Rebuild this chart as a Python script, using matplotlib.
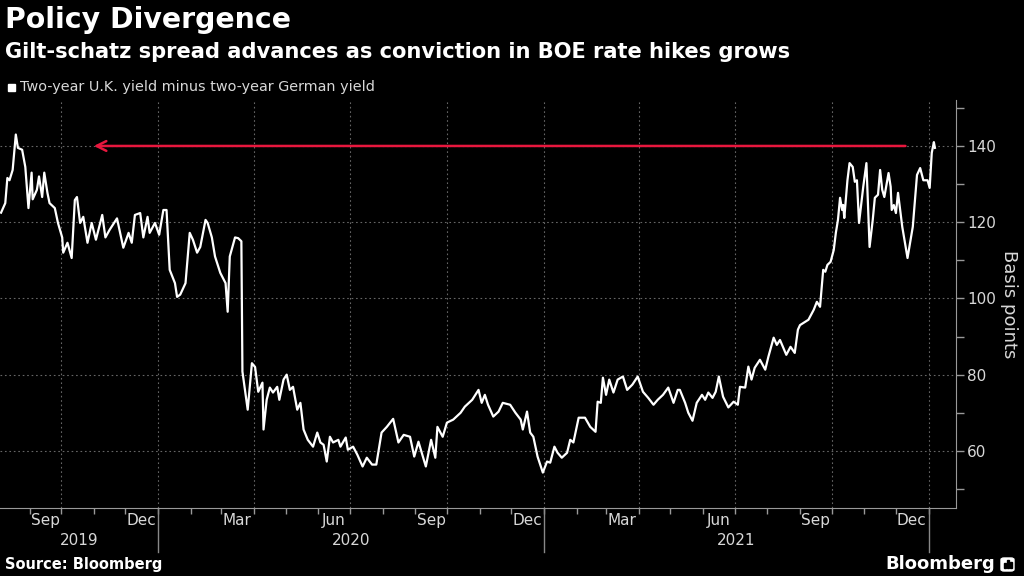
import matplotlib
matplotlib.use("Agg")
import matplotlib.pyplot as plt
import matplotlib.dates as mdates
from matplotlib.patches import FancyBboxPatch, Rectangle
import pandas as pd

# Two-year U.K. yield minus two-year German yield, basis points
dates = [
    "2019-08-05", "2019-08-09", "2019-08-11", "2019-08-13", "2019-08-16", "2019-08-19", "2019-08-21",
    "2019-08-25", "2019-08-28", "2019-08-31", "2019-09-03", "2019-09-04", "2019-09-08", "2019-09-10",
    "2019-09-13", "2019-09-15", "2019-09-18", "2019-09-20", "2019-09-25", "2019-09-28", "2019-10-02",
    "2019-10-03", "2019-10-07", "2019-10-11", "2019-10-14", "2019-10-16", "2019-10-19", "2019-10-22",
    "2019-10-26", "2019-10-30", "2019-11-03", "2019-11-09", "2019-11-12", "2019-11-16", "2019-11-23",
    "2019-11-29", "2019-12-04", "2019-12-07", "2019-12-10", "2019-12-15", "2019-12-18", "2019-12-22",
    "2019-12-24", "2019-12-29", "2020-01-02", "2020-01-06", "2020-01-09", "2020-01-12", "2020-01-17",
    "2020-01-19", "2020-01-22", "2020-01-27", "2020-01-31", "2020-02-03", "2020-02-07", "2020-02-10",
    "2020-02-15", "2020-02-17", "2020-02-21", "2020-02-24", "2020-02-29", "2020-03-05", "2020-03-07",
    "2020-03-09", "2020-03-14", "2020-03-17", "2020-03-20", "2020-03-21", "2020-03-26", "2020-03-30",
    "2020-04-02", "2020-04-05", "2020-04-09", "2020-04-10", "2020-04-13", "2020-04-16", "2020-04-19",
    "2020-04-23", "2020-04-25", "2020-04-29", "2020-05-02", "2020-05-05", "2020-05-08", "2020-05-12",
    "2020-05-15", "2020-05-18", "2020-05-22", "2020-05-27", "2020-05-31", "2020-06-03", "2020-06-06",
    "2020-06-09", "2020-06-12", "2020-06-15", "2020-06-20", "2020-06-22", "2020-06-27", "2020-06-29",
    "2020-07-04", "2020-07-08", "2020-07-13", "2020-07-17", "2020-07-22", "2020-07-26", "2020-07-31",
    "2020-08-05", "2020-08-11", "2020-08-16", "2020-08-21", "2020-08-27", "2020-08-31", "2020-09-04",
    "2020-09-09", "2020-09-11", "2020-09-16", "2020-09-20", "2020-09-22", "2020-09-27", "2020-10-01",
    "2020-10-07", "2020-10-14", "2020-10-18", "2020-10-25", "2020-10-31", "2020-11-03", "2020-11-06",
    "2020-11-09", "2020-11-14", "2020-11-19", "2020-11-23", "2020-11-30", "2020-12-05", "2020-12-10",
    "2020-12-12", "2020-12-16", "2020-12-19", "2020-12-22", "2020-12-26", "2020-12-31", "2021-01-04",
    "2021-01-07", "2021-01-11", "2021-01-14", "2021-01-18", "2021-01-23", "2021-01-26", "2021-01-29",
    "2021-02-03", "2021-02-09", "2021-02-14", "2021-02-19", "2021-02-21", "2021-02-24", "2021-02-26",
    "2021-03-01", "2021-03-04", "2021-03-08", "2021-03-12", "2021-03-17", "2021-03-21", "2021-03-26",
    "2021-03-31", "2021-04-05", "2021-04-10", "2021-04-15", "2021-04-19", "2021-04-24", "2021-04-29",
    "2021-05-04", "2021-05-08", "2021-05-10", "2021-05-15", "2021-05-18", "2021-05-22", "2021-05-26",
    "2021-05-31", "2021-06-03", "2021-06-06", "2021-06-10", "2021-06-13", "2021-06-16", "2021-06-20",
    "2021-06-25", "2021-06-30", "2021-07-04", "2021-07-06", "2021-07-11", "2021-07-14", "2021-07-17",
    "2021-07-20", "2021-07-25", "2021-07-30", "2021-08-02", "2021-08-07", "2021-08-10", "2021-08-13",
    "2021-08-19", "2021-08-23", "2021-08-27", "2021-08-30", "2021-09-01", "2021-09-09", "2021-09-14",
    "2021-09-17", "2021-09-20", "2021-09-23", "2021-09-25", "2021-09-27", "2021-09-30", "2021-10-03",
    "2021-10-05", "2021-10-07", "2021-10-09", "2021-10-11", "2021-10-12", "2021-10-13", "2021-10-16",
    "2021-10-18", "2021-10-21", "2021-10-23", "2021-10-25", "2021-10-27", "2021-10-31", "2021-11-03",
    "2021-11-06", "2021-11-09", "2021-11-11", "2021-11-14", "2021-11-16", "2021-11-18", "2021-11-20",
    "2021-11-24", "2021-11-26", "2021-11-27", "2021-11-29", "2021-12-01", "2021-12-03", "2021-12-07",
    "2021-12-12", "2021-12-17", "2021-12-21", "2021-12-24", "2021-12-27", "2021-12-31", "2022-01-02",
    "2022-01-04", "2022-01-06", "2022-01-07",
]
spread = [
    122.5, 125.0, 131.6, 131.0, 133.7, 143.0, 139.5,
    139.0, 134.5, 123.7, 133.0, 126.0, 128.5, 132.0,
    126.6, 133.0, 127.7, 125.0, 123.7, 119.8, 116.0,
    112.0, 114.6, 110.6, 125.8, 126.6, 119.8, 121.4,
    114.6, 119.8, 115.4, 121.9, 116.0, 118.0, 121.0,
    113.3, 117.2, 114.6, 121.9, 122.4, 116.0, 121.4,
    117.2, 119.8, 116.7, 123.2, 123.2, 107.5, 104.0,
    100.4, 101.0, 104.0, 117.2, 115.4, 112.0, 113.5,
    120.6, 119.8, 116.0, 111.0, 106.7, 104.0, 96.5,
    111.0, 116.0, 115.8, 115.0, 80.8, 70.8, 83.0,
    82.0, 75.5, 77.9, 65.6, 73.4, 76.6, 75.3,
    76.8, 73.4, 78.7, 80.0, 76.0, 76.8, 70.8,
    72.6, 65.6, 62.9, 61.1, 64.8, 62.2, 61.6,
    57.2, 63.7, 62.2, 62.9, 61.1, 63.5, 60.3,
    61.1, 59.0, 55.9, 58.2, 56.4, 56.4, 64.8,
    66.3, 68.4, 62.2, 64.2, 63.7, 58.5, 62.4,
    57.7, 55.9, 62.9, 58.2, 66.3, 63.7, 67.4,
    68.2, 70.0, 71.6, 73.4, 76.0, 72.6, 74.7,
    72.1, 69.0, 70.3, 72.6, 72.1, 70.0, 68.2,
    65.6, 70.3, 64.8, 63.7, 58.5, 54.3, 57.2,
    56.9, 61.1, 59.5, 58.2, 59.5, 62.9, 62.2,
    68.7, 68.7, 66.3, 65.0, 72.9, 72.6, 79.2,
    74.7, 78.7, 75.3, 78.7, 79.5, 76.0, 77.4,
    79.5, 75.5, 73.9, 72.1, 73.4, 74.7, 76.6,
    72.6, 76.0, 76.0, 72.6, 70.0, 67.9, 72.6,
    74.7, 73.4, 75.3, 73.9, 75.5, 79.5, 74.2,
    71.4, 72.9, 72.1, 76.8, 76.6, 82.1, 78.7,
    81.8, 83.9, 81.3, 84.7, 89.7, 87.8, 89.1,
    85.2, 87.3, 85.7, 91.8, 93.0, 94.4, 97.0,
    99.1, 97.8, 107.5, 107.0, 108.8, 109.6, 112.7,
    117.2, 120.6, 126.4, 123.2, 124.5, 121.1, 131.0,
    135.5, 134.5, 130.6, 131.0, 119.8, 129.3, 135.5,
    113.5, 120.6, 126.4, 127.2, 133.7, 128.5, 126.6,
    132.9, 129.3, 123.2, 124.5, 122.4, 127.7, 118.8,
    110.6, 118.8, 132.4, 134.2, 131.0, 131.0, 129.0,
    138.2, 141.0, 139.5,
]

arrow_level = 140
arrow_from = "2021-12-10"
arrow_to = "2019-11-01"

month_labels = ["Sep", "Dec", "Mar", "Jun", "Sep", "Dec", "Mar", "Jun", "Sep", "Dec"]
month_label_dates = ["2019-09-16", "2019-12-16", "2020-03-16", "2020-06-16", "2020-09-16",
                     "2020-12-16", "2021-03-16", "2021-06-16", "2021-09-16", "2021-12-16"]
year_labels = ["2019", "2020", "2021"]
year_starts = ["2020-01-01", "2021-01-01", "2022-01-01"]

x_start = pd.Timestamp("2019-08-04")
x_end = pd.Timestamp("2022-01-27")

dt = pd.to_datetime(dates)

fig = plt.figure(figsize=(10.24, 5.76), dpi=100, facecolor="black")
ax = fig.add_axes([0.0, 0.118, 0.9336, 0.708], facecolor="black")

ax.plot(dt, spread, color="white", lw=1.6, zorder=3)

ax.set_xlim(x_start, x_end)
ax.set_ylim(45, 152)

# right y axis
ax.yaxis.tick_right()
ax.set_yticks([60, 80, 100, 120, 140])
ax.set_yticks([50, 70, 90, 110, 130, 150], minor=True)
ax.tick_params(axis="y", which="both", colors="#999999", labelcolor="#d8d8d8",
               labelsize=11, length=6, width=1, pad=2)
ax.yaxis.grid(True, which="major", color="#666666", ls=(0, (1.5, 2.5)), lw=0.8)

# x axis: monthly ticks, labels mid month
ax.xaxis.set_major_locator(mdates.MonthLocator())
ax.xaxis.set_major_formatter(plt.NullFormatter())
ax.tick_params(axis="x", which="both", colors="#999999", length=4, width=1)
for q in pd.date_range("2019-10-01", "2022-01-01", freq="QS-JAN"):
    ax.axvline(q, color="#666666", ls=(0, (1.5, 2.5)), lw=0.8, zorder=1)

tr = ax.get_xaxis_transform()
for lab, d in zip(month_labels, month_label_dates):
    ax.text(pd.Timestamp(d), -0.03, lab, transform=tr, ha="center", va="center",
            color="#d8d8d8", fontsize=11, clip_on=False)

edges = [x_start] + [pd.Timestamp(s) for s in year_starts]
for i, lab in enumerate(year_labels):
    mid = edges[i] + (edges[i + 1] - edges[i]) / 2
    ax.text(mid, -0.079, lab, transform=tr, ha="center", va="center",
            color="#d8d8d8", fontsize=11, clip_on=False)
for s in year_starts:
    ax.plot([pd.Timestamp(s)] * 2, [0, -0.108], transform=tr, color="#888888",
            lw=1, clip_on=False)

for side in ["top", "left"]:
    ax.spines[side].set_visible(False)
for side in ["right", "bottom"]:
    ax.spines[side].set_color("#999999")

ax.yaxis.set_label_position("right")
ax.set_ylabel("Basis points", color="#d8d8d8", fontsize=13, rotation=270, labelpad=16)

# red arrow
ax.annotate("", xy=(pd.Timestamp(arrow_to), arrow_level),
            xytext=(pd.Timestamp(arrow_from), arrow_level),
            arrowprops=dict(arrowstyle="->,head_length=0.7,head_width=0.35",
                            color="#e8173e", lw=1.8, shrinkA=0, shrinkB=0), zorder=4)

# titles
fig.text(0.005, 0.965, "Policy Divergence", color="white", fontsize=20.4,
         fontweight="bold", ha="left", va="center")
fig.text(0.005, 0.91, "Gilt-schatz spread advances as conviction in BOE rate hikes grows",
         color="white", fontsize=15.1, fontweight="bold", ha="left", va="center")
fig.patches.append(Rectangle((8 / 1024, 1 - 91 / 576), 7 / 1024, 7 / 576,
                             transform=fig.transFigure, color="white"))
fig.text(20 / 1024, 1 - 87 / 576, "Two-year U.K. yield minus two-year German yield",
         color="#d8d8d8", fontsize=10.4, ha="left", va="center")

fig.text(0.005, 1 - 565 / 576, "Source: Bloomberg", color="white", fontsize=10.5,
         fontweight="bold", ha="left", va="center")
fig.text(995 / 1024, 1 - 564 / 576, "Bloomberg", color="white", fontsize=13,
         fontweight="bold", ha="right", va="center")
fig.patches.append(FancyBboxPatch((1001 / 1024, 1 - 571 / 576), 13 / 1024, 13 / 576,
                                  boxstyle="round,pad=0,rounding_size=0.003",
                                  transform=fig.transFigure, color="white"))
for bx, bh in [(1004, 5), (1007, 8), (1010, 6)]:
    fig.patches.append(Rectangle((bx / 1024, 1 - 568 / 576), 1.5 / 1024, bh / 576,
                                 transform=fig.transFigure, color="black"))

fig.savefig("out.png", dpi=100, facecolor="black")
